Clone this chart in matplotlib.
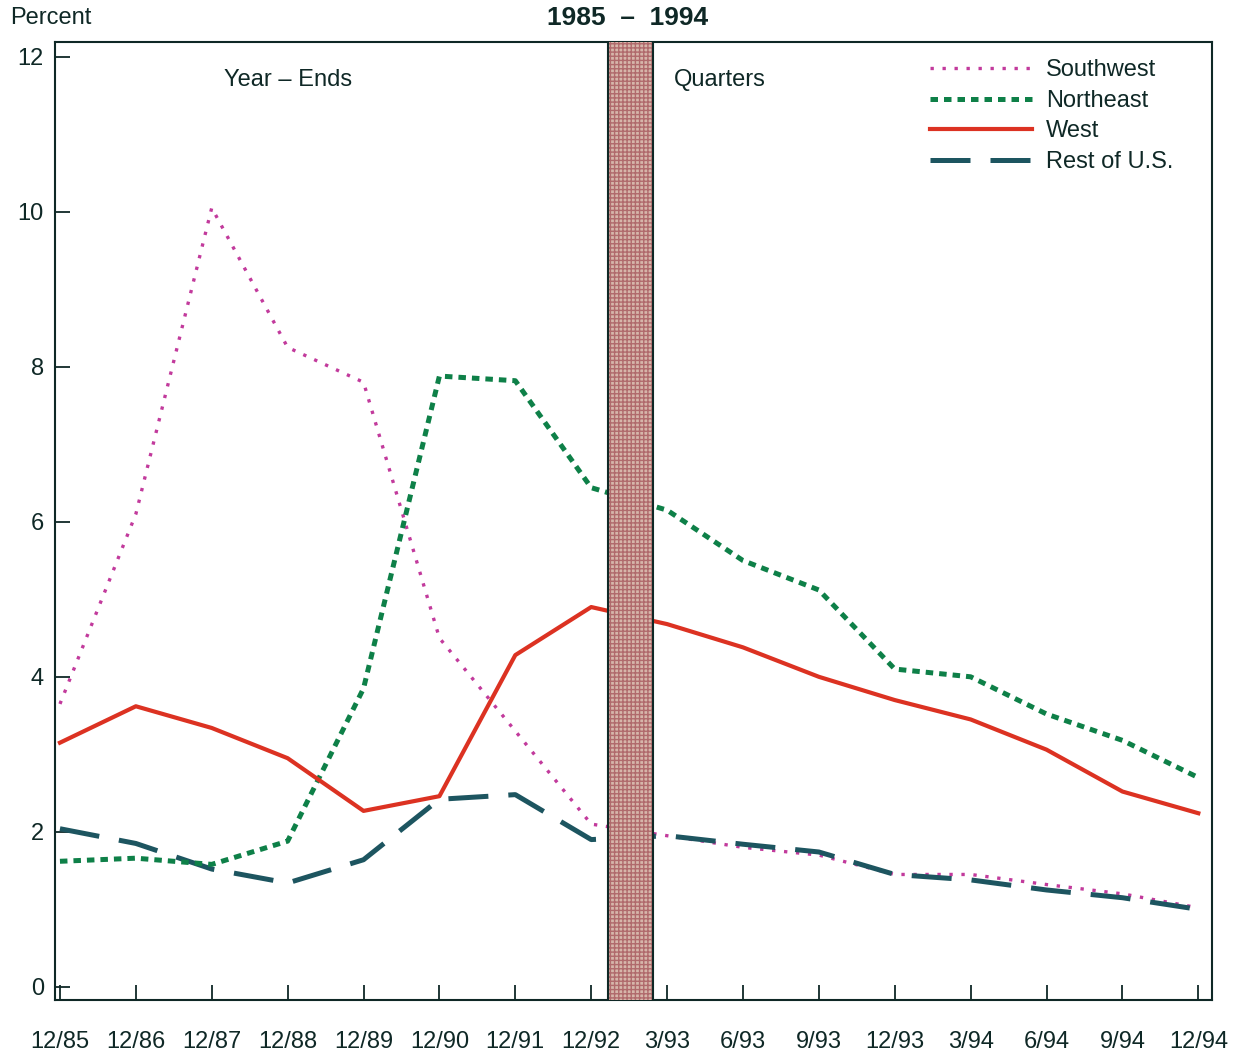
import matplotlib
matplotlib.use('Agg')
import matplotlib.pyplot as plt

plt.rcParams['font.family'] = ['Liberation Sans', 'DejaVu Sans']

# periods: year-ends then quarters
periods = ['12/85', '12/86', '12/87', '12/88', '12/89', '12/90', '12/91', '12/92',
           '3/93', '6/93', '9/93', '12/93', '3/94', '6/94', '9/94', '12/94']

southwest = [3.65, 6.1, 10.05, 8.25, 7.8, 4.5, 3.3, 2.1,
             1.95, 1.8, 1.7, 1.45, 1.45, 1.32, 1.2, 1.02]
northeast = [1.62, 1.66, 1.58, 1.88, 3.85, 7.88, 7.82, 6.44,
             6.15, 5.5, 5.12, 4.1, 4.0, 3.52, 3.18, 2.7]
west = [3.15, 3.62, 3.34, 2.95, 2.27, 2.46, 4.28, 4.9,
        4.68, 4.38, 4.0, 3.7, 3.45, 3.06, 2.52, 2.24]
rest_us = [2.04, 1.85, 1.52, 1.34, 1.64, 2.42, 2.48, 1.9,
           1.95, 1.84, 1.74, 1.45, 1.38, 1.25, 1.15, 1.0]

ink = '#0f2826'
x = list(range(len(periods)))

fig = plt.figure(figsize=(12.46, 10.55), dpi=100)
ax = fig.add_axes([0.0441, 0.0521, 0.9286, 0.9081])

ax.plot(x, southwest, color='#c23a9c', lw=2.4, dashes=(1, 2.6), label='Southwest', zorder=2)
ax.plot(x, northeast, color='#0e8048', lw=3.6, dashes=(1.5, 1.2), label='Northeast', zorder=3)
ax.plot(x, west, color='#dc3222', lw=3.0, label='West', zorder=3)
ax.plot(x, rest_us, color='#1d5560', lw=3.6, dashes=(8, 4), label='Rest of U.S.', zorder=2)

# break between year-ends and quarters
ax.axvspan(7.22, 7.82, facecolor='#d6b6aa', hatch='++++', edgecolor='#b06a6c',
           linewidth=0, zorder=5)
ax.axvline(7.22, color=ink, lw=1.5, zorder=6)
ax.axvline(7.82, color=ink, lw=1.5, zorder=6)

ax.set_xlim(-0.066, 15.18)
ax.set_ylim(-0.17, 12.19)

ax.set_xticks(x)
ax.set_xticklabels(periods)
ax.set_yticks([0, 2, 4, 6, 8, 10, 12])
ax.tick_params(axis='x', direction='in', length=11, width=1.3, color=ink,
               labelsize=17, pad=22, labelcolor=ink)
ax.tick_params(axis='y', direction='in', length=11, width=1.3, color=ink,
               labelsize=17, pad=8, labelcolor=ink)
for s in ax.spines.values():
    s.set_color(ink)
    s.set_linewidth(1.5)

fig.text(0.008, 0.983, 'Percent', fontsize=17, color=ink, va='center', ha='left')
fig.text(0.504, 0.983, '1985  \u2013  1994', fontsize=19, fontweight='bold',
         color=ink, va='center', ha='center')
ax.text(3.0, 11.7, 'Year \u2013 Ends', fontsize=17, color=ink, ha='center', va='center')
ax.text(8.7, 11.7, 'Quarters', fontsize=17, color=ink, ha='center', va='center')

leg = ax.legend(loc='upper left', bbox_to_anchor=(0.738, 1.004), frameon=False,
                fontsize=17, handlelength=4.3, handletextpad=0.6, labelspacing=0.36)
for t in leg.get_texts():
    t.set_color(ink)

fig.savefig('out.png', dpi=100)
